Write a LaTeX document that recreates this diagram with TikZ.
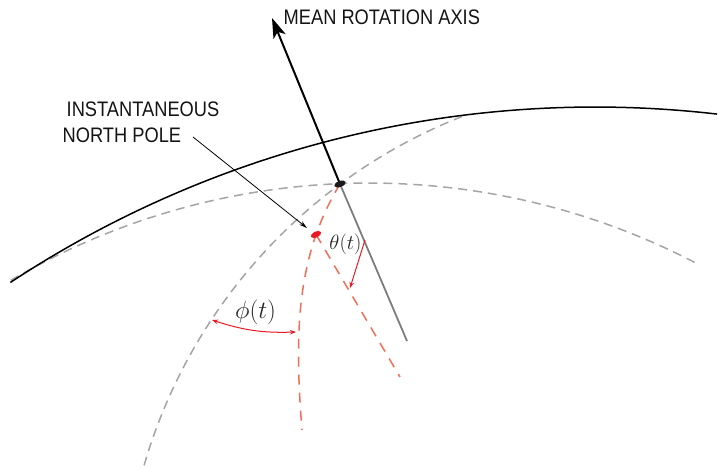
\documentclass[tikz,border=0pt]{standalone}
\usepackage{fontspec}
\setmainfont{Liberation Sans}
\usetikzlibrary{arrows.meta,shapes.geometric,backgrounds}
\definecolor{dashgray}{RGB}{165,165,165}
\definecolor{axisgray}{RGB}{125,125,125}
\definecolor{coral}{RGB}{242,110,85}
\definecolor{arrred}{RGB}{235,25,35}
\tikzset{
  capslabel/.style={anchor=base west,inner sep=0pt,font=\fontsize{21}{25}\selectfont,text=black!92},
  mathlabel/.style={inner sep=0pt,font=\fontsize{21}{25}\selectfont,text=black!85},
  graydash/.style={draw=dashgray,line width=1.5pt,dash pattern=on 9pt off 6pt},
  reddash/.style={draw=coral,line width=1.5pt,dash pattern=on 10pt off 8pt},
  redarrow/.style={draw=arrred,line width=1pt},
  polemark/.style={ellipse,inner sep=0pt,minimum width=12pt,minimum height=6pt},
}
\begin{document}
\begin{tikzpicture}[x=1pt,y=1pt]
\useasboundingbox (0,0) rectangle (718,468);
% pole marks
\node[polemark,fill=black!90,rotate=20] (bdot) at (340,284) {};
\node[polemark,fill=arrred,rotate=25,minimum width=11pt] (rdot) at (316,233.5) {};
% coordinates
\coordinate (axtop) at (272,450);
\coordinate (axbot) at (407,127);
\coordinate (redend) at (302,38);
\coordinate (redline) at (400,91);
\coordinate (npfrom) at (193,331);
\coordinate (npto) at (307,240);
\begin{pgfonlayer}{background}
% great circles
\draw[graydash] ([shift={(120.4:708)}]369,-423) arc[start angle=120.4,end angle=62.5,radius=708];
\draw[graydash] ([shift={(163.8:535.6)}]658.4,-146.8) arc[start angle=163.8,end angle=111.5,radius=535.6];
\draw[black,line width=1.5pt] ([shift={(123.4:1062)}]595,-701) arc[start angle=123.4,end angle=83.4,radius=1062];
% red dashed
\draw[reddash] (bdot.center) .. controls (297,213) and (294,138) .. (redend);
\draw[reddash] (rdot.center) -- (redline);
% axis
\draw[axisgray,line width=1.8pt] (bdot.center) -- (axbot);
\draw[black,line width=2pt,-{Stealth[length=20pt,width=13pt,inset=5pt]}] (bdot.center) -- (axtop);
\end{pgfonlayer}
% labels
\node[capslabel] (mra) at (283.5,443) {\scalebox{0.87}[1]{MEAN ROTATION AXIS}};
\node[capslabel] (inp1) at (66.5,351) {\scalebox{0.87}[1]{INSTANTANEOUS}};
\node[capslabel] (inp2) at (62.5,325.5) {\scalebox{0.87}[1]{NORTH POLE}};
\draw[black,line width=0.8pt,-{Stealth[length=8pt,width=4.5pt]}] (npfrom) -- (npto);
% angles
\node[mathlabel] (theta) at (345.5,224) {$\theta(t)$};
\node[mathlabel,font=\fontsize{24}{28}\selectfont] (phi) at (255.5,156) {$\phi(t)$};
\coordinate (thA) at (365,228);
\coordinate (thB) at (350,180);
\draw[redarrow,-{Stealth[length=6pt,width=4.5pt]}] (thA) -- (thB);
\coordinate (phA) at (212,148);
\coordinate (phB) at (296,136);
\draw[redarrow,{Stealth[length=6pt,width=4.5pt]}-{Stealth[length=6pt,width=4.5pt]}] (phA) to[bend right=10] (phB);
\end{tikzpicture}
\end{document}
